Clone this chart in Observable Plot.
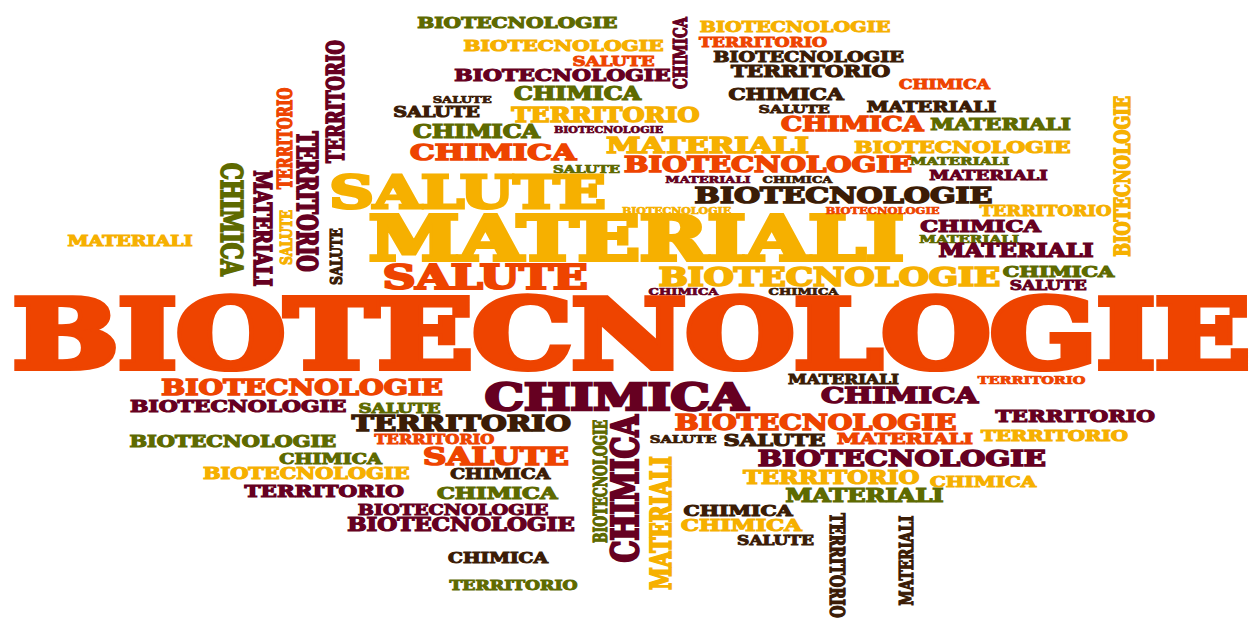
<!DOCTYPE html>
<html><head><meta charset="utf-8">
<script src="https://cdn.jsdelivr.net/npm/d3@7"></script>
<script src="https://cdn.jsdelivr.net/npm/@observablehq/plot@0.6"></script>
<style>html,body{margin:0;padding:0;background:#fff;overflow:hidden}svg{display:block}</style>
</head><body><div id="chart"></div>
<script>
const words = [
"MATERIALI","CHIMICA","MATERIALI","TERRITORIO","SALUTE","TERRITORIO","TERRITORIO","SALUTE",
"BIOTECNOLOGIE","BIOTECNOLOGIE","SALUTE","BIOTECNOLOGIE","CHIMICA","SALUTE","SALUTE","CHIMICA",
"TERRITORIO","CHIMICA","BIOTECNOLOGIE","CHIMICA","MATERIALI","SALUTE","BIOTECNOLOGIE","MATERIALI",
"CHIMICA","BIOTECNOLOGIE","BIOTECNOLOGIE","SALUTE","MATERIALI","SALUTE","BIOTECNOLOGIE","CHIMICA",
"CHIMICA","BIOTECNOLOGIE","TERRITORIO","BIOTECNOLOGIE","TERRITORIO","CHIMICA","CHIMICA","SALUTE",
"MATERIALI","CHIMICA","MATERIALI","BIOTECNOLOGIE","MATERIALI","MATERIALI","BIOTECNOLOGIE","TERRITORIO",
"CHIMICA","MATERIALI","MATERIALI","CHIMICA","SALUTE","BIOTECNOLOGIE","BIOTECNOLOGIE","BIOTECNOLOGIE",
"BIOTECNOLOGIE","SALUTE","TERRITORIO","TERRITORIO","BIOTECNOLOGIE","SALUTE","CHIMICA","BIOTECNOLOGIE",
"CHIMICA","TERRITORIO","CHIMICA","BIOTECNOLOGIE","BIOTECNOLOGIE","CHIMICA","TERRITORIO","BIOTECNOLOGIE",
"CHIMICA","MATERIALI","CHIMICA","MATERIALI","BIOTECNOLOGIE","SALUTE","SALUTE","BIOTECNOLOGIE",
"TERRITORIO","MATERIALI","CHIMICA","CHIMICA","SALUTE","TERRITORIO","CHIMICA","TERRITORIO",
"MATERIALI","TERRITORIO","CHIMICA","TERRITORIO","MATERIALI"
];
const tones = [
"amber","moss","wine","rust","amber","wine","wine","umber",
"moss","amber","rust","wine","wine","umber","umber","moss",
"amber","moss","wine","rust","amber","moss","rust","wine",
"umber","umber","amber","amber","amber","rust","amber","wine",
"umber","amber","rust","umber","umber","rust","umber","umber",
"umber","rust","moss","amber","moss","wine","rust","amber",
"wine","moss","wine","moss","wine","amber","rust","rust",
"wine","moss","umber","rust","moss","rust","moss","amber",
"umber","wine","moss","wine","wine","umber","moss","moss",
"wine","amber","wine","umber","rust","umber","umber","wine",
"amber","moss","umber","amber","umber","rust","wine","wine",
"rust","amber","amber","umber","umber"
];
const cx = [
129.5,230.7,262,284.5,285,306,334.5,335,
516.7,563,613,562,680,461.7,436,577,
605,476,608,492.5,707,586,767.5,707.5,
797,843,676,467,636,484.7,829,683,
803,794.5,762.5,808,810,944,785.5,793.7,
931,851.7,1000,962,959,988,882,1045,
980,968.7,1015.5,1058,1047.7,1121,631,301.5,
237.7,399,460.8,434,232.3,495.5,330,305.7,
499.7,323.7,496.7,452.5,460.5,497.5,513,599.7,
623.3,660.5,615.8,843,815,682.7,774,901.3,
830.8,864,737.5,740.8,775,1031,899,1074.7,
904.5,1054,982.5,836.7,905.8
];
const cy = [
240,219,228,138,237,201,101,256,
22,44.5,61,74.3,52.5,98.8,111.7,93,
113.8,131.3,129.3,151,144,168.3,163.8,178.8,
178.8,194,210,191.3,237.5,276.7,275.5,291,
291,25.8,41.3,55.8,70,84.3,93.7,108.7,
105.8,122.8,123.7,146.7,160,174.7,210,210.5,
225,238.3,250.3,271,285,175.8,333,386.3,
405,408,422.5,439,440.3,455.5,458.3,473,
473.8,490.7,492.7,509,523.7,557,584.7,480.8,
488.3,522.5,396.2,379,422,438.3,439.3,457.2,
476.7,494.5,510,524,540,379.5,394.7,415,
437.8,434.5,480.8,565,560
];
const weights = [
11.3,23,19.4,15.7,13.3,21.7,19,13.7,
12.3,12.3,10.7,13.3,14.7,7.7,11.3,14,
15.7,14,6.7,18.3,18.3,8.7,17.7,7.7,
7.7,18.3,6.7,36,48.3,26.7,21,7.7,
7.7,11.7,10.7,11.7,13.3,10,12.7,9.3,
11.7,15.7,12.7,13.3,9,10.7,7,11,
13.3,9,14,12.3,10,18.3,76,17.3,
13.3,10.7,18.3,10,12.7,19,11.3,12.7,
11,13.3,13.3,11.7,14,11,10.7,14,
30,22.3,29,10,17.3,8.7,13.3,17.7,
14.7,14.3,12,13.3,10,9,17.3,13.3,
12.3,12.3,11.7,16.2,15
];
const angles = [
0,90,90,-90,-90,90,-90,-90,
0,0,0,0,-90,0,0,0,
0,0,0,0,0,0,0,0,
0,0,0,0,0,0,0,0,
0,0,0,0,0,0,0,0,
0,0,0,0,0,0,0,0,
0,0,0,0,0,-90,0,0,
0,0,0,0,0,0,0,0,
0,0,0,0,0,0,0,-90,
-90,-90,0,0,0,0,0,0,
0,0,0,0,0,0,0,0,
0,0,0,90,-90
];
const toneNames = ["rust","amber","umber","wine","moss"];
const toneColors = ["#EE4400","#F6B000","#3B1C06","#660021","#5E6A00"];

// proportions of the lettering (word length / cap height, as drawn horizontally)
const wordRatio = {BIOTECNOLOGIE: 16.3, MATERIALI: 11.1, SALUTE: 7.7, CHIMICA: 9.1, TERRITORIO: 12.0};
const CAP = 0.729, BOLD = 0.065, INK = CAP + BOLD, STRETCH = 1.36;

const data = words.map((w, i) => ({
  word: w, tone: tones[i], x: cx[i], y: cy[i], rotate: angles[i], weight: weights[i],
  size: angles[i] === 0 ? weights[i] / INK : weights[i] / (INK * STRETCH)
}));

const chart = Plot.plot({
  width: 1251, height: 618, margin: 0,
  style: {background: "#fff"},
  x: {domain: [0, 1251], range: [0, 1251], axis: null},
  y: {domain: [0, 618], range: [0, 618], axis: null},
  color: {type: "ordinal", domain: toneNames, range: toneColors},
  marks: [
    Plot.text(data, {
      x: "x", y: "y", text: "word", fill: "tone", stroke: "tone",
      fontSize: d => d.size, rotate: "rotate",
      fontFamily: "DejaVu Serif Condensed", fontWeight: "bold", textAnchor: "middle"
    })
  ]
});
document.getElementById("chart").appendChild(chart);
d3.select(chart).selectAll("text").each(function(i) {
  const d = data[i];
  if (!d) return;
  this.style.fontFamily = "'DejaVu Serif Condensed', 'DejaVu Serif', serif";
  this.style.fontWeight = "bold";
  this.setAttribute("y", "0.365em");
  this.setAttribute("stroke-width", (BOLD * d.size).toFixed(3));
  this.setAttribute("stroke-linejoin", "miter");
  const ink = this.getComputedTextLength() + 0.015 * d.size;
  const horizontal = d.rotate === 0;
  const target = horizontal ? wordRatio[d.word] * d.weight
                            : wordRatio[d.word] * d.weight / (STRETCH * STRETCH);
  const along = target / ink;
  const t = this.getAttribute("transform") || "";
  this.setAttribute("transform", t + ` scale(${along.toFixed(4)},${horizontal ? 1 : STRETCH})`);
});
</script>
</body></html>
